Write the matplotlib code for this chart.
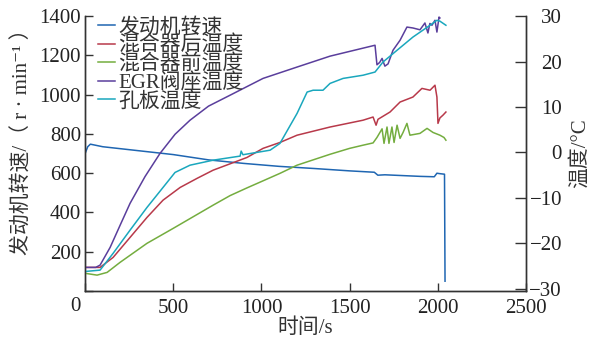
import matplotlib
matplotlib.use('Agg')
import matplotlib.pyplot as plt

plt.rcParams['font.family'] = ['Liberation Serif', 'Noto Sans CJK SC', 'DejaVu Sans']
plt.rcParams['axes.unicode_minus'] = True

# engine speed (left axis, r/min)
t_speed = [0, 15, 30, 100, 300, 500, 700, 900, 1100, 1300, 1500, 1640, 1660,
           1700, 1800, 1900, 1980, 1995, 2010, 2038, 2041]
speed = [700, 735, 748, 735, 715, 695, 668, 650, 635, 624, 612, 605, 590,
         592, 588, 584, 582, 600, 598, 595, 50]

# temperatures (right axis, degC)
t_after = [0, 85, 159, 255, 351, 442, 539, 635, 726, 918, 1009, 1105, 1202, 1389,
           1576, 1633, 1650, 1661, 1729, 1786, 1859, 1910, 1956, 1984, 1995, 2001,
           2012, 2029, 2046]
T_after = [-25.3, -25.3, -23.1, -18.7, -14.3, -10.5, -7.7, -5.7, -3.9, -1.1, 0.9,
           2.2, 3.8, 5.6, 7.1, 7.8, 6.0, 7.3, 8.9, 11.1, 12.2, 14.1, 13.7, 14.8,
           12.2, 6.4, 7.6, 8.2, 8.9]

t_before = [0, 68, 125, 198, 351, 500, 726, 822, 918, 1000, 1105, 1202, 1389, 1500,
            1576, 1633, 1655, 1684, 1695, 1712, 1723, 1740, 1752, 1769, 1786, 1803,
            1825, 1842, 1899, 1939, 1973, 2012, 2035, 2046]
T_before = [-26.6, -27.0, -26.4, -24.2, -20.0, -16.7, -11.6, -9.5, -7.8, -6.4, -4.6,
            -2.8, -0.4, 0.9, 1.6, 2.1, 3.3, 5.2, 2.0, 5.6, 2.0, 5.6, 2.2, 6.0, 3.1,
            4.4, 6.4, 3.8, 4.2, 5.3, 4.4, 3.8, 3.3, 2.7]

t_egr = [0, 60, 85, 142, 200, 255, 340, 425, 510, 595, 700, 822, 1009, 1202, 1389,
         1644, 1655, 1670, 1684, 1700, 1718, 1746, 1786, 1825, 1859, 1899, 1927,
         1944, 1955, 1967, 1984, 1995, 2007, 2012]
T_egr = [-25.3, -25.3, -24.8, -20.9, -15.9, -11.2, -5.3, -0.2, 4.0, 7.1, 10.2, 12.6,
         16.3, 18.8, 21.2, 23.6, 19.3, 19.8, 20.7, 19.0, 19.5, 22.5, 24.7, 27.6,
         27.4, 27.0, 28.5, 26.3, 28.4, 28.0, 29.1, 26.5, 29.8, 29.6]

t_plate = [0, 85, 159, 255, 351, 442, 510, 595, 726, 879, 885, 895, 1049, 1105,
           1202, 1259, 1293, 1349, 1389, 1463, 1576, 1644, 1689, 1769, 1859, 1956,
           1995, 2012, 2046]
T_plate = [-26.2, -25.9, -22.2, -17.1, -12.1, -7.7, -4.4, -2.8, -1.7, -0.8, 0.3,
           -0.5, 0.5, 2.0, 8.6, 13.3, 13.7, 13.7, 15.2, 16.3, 17.0, 17.7, 19.9,
           22.5, 25.4, 28.0, 29.1, 28.9, 28.0]

labels = ['发动机转速', '混合器后温度', '混合器前温度', 'EGR阀座温度', '孔板温度']
colors = ['#1f66b2', '#b8394a', '#74ad3f', '#5a3e9c', '#1aa7bd']

fig = plt.figure(figsize=(5.95, 3.44), dpi=100)
ax = fig.add_axes([0.143, 0.154, 0.741, 0.799])
ax2 = ax.twinx()

lw = 1.1
h0, = ax.plot(t_speed, speed, color=colors[0], lw=lw)
h1, = ax2.plot(t_after, T_after, color=colors[1], lw=lw)
h2, = ax2.plot(t_before, T_before, color=colors[2], lw=lw)
h3, = ax2.plot(t_egr, T_egr, color=colors[3], lw=lw)
h4, = ax2.plot(t_plate, T_plate, color=colors[4], lw=lw)

ax.set_xlim(0, 2500)
ax.set_ylim(0, 1400)
ax2.set_ylim(-30.5, 30)

fs = 15
ax.set_xticks([0, 500, 1000, 1500, 2000, 2500])
ax.set_xticklabels(['', '500', '1000', '1500', '2000', '2500'])
ax.set_yticks([0, 200, 400, 600, 800, 1000, 1200, 1400])
ax.set_yticklabels(['', '200', '400', '600', '800', '1000', '1200', '1400'])
ax2.set_yticks([-30, -20, -10, 0, 10, 20, 30])

ax.tick_params(axis='both', direction='in', length=6, width=1, labelsize=fs,
               colors='#333333', labelcolor='#222222')
ax.tick_params(axis='y', pad=3)
ax.tick_params(axis='x', pad=6)
ax2.tick_params(axis='y', direction='in', length=8, width=1, labelsize=fs,
                pad=26, colors='#333333', labelcolor='#222222')
for lab in ax2.get_yticklabels():
    lab.set_horizontalalignment('right')

for a in (ax, ax2):
    a.spines['top'].set_visible(False)
    for s in ('left', 'right', 'bottom'):
        a.spines[s].set_color('#333333')
        a.spines[s].set_linewidth(1)

ax.text(-0.023, -0.055, '0', transform=ax.transAxes, ha='center', va='center',
        fontsize=fs, color='#222222')

ax.set_xlabel('时间/s', fontsize=15, color='#333333')
ax.xaxis.set_label_coords(0.5, -0.1)
ax.set_ylabel('发动机转速/（ r · min⁻¹ ）', fontsize=15, color='#333333')
ax.yaxis.set_label_coords(-0.12, 0.56)
ax2.set_ylabel('温度/°C', fontsize=15, color='#333333')
ax2.yaxis.set_label_coords(1.1, 0.5)

leg = ax2.legend([h0, h1, h2, h3, h4], labels, loc='upper left',
                 bbox_to_anchor=(0.03, 0.995), frameon=False, fontsize=fs,
                 handlelength=0.8, handletextpad=0.15, labelspacing=-0.07,
                 borderaxespad=0, borderpad=0)
for txt in leg.get_texts():
    txt.set_color('#333333')

fig.savefig('out.png', dpi=100)
